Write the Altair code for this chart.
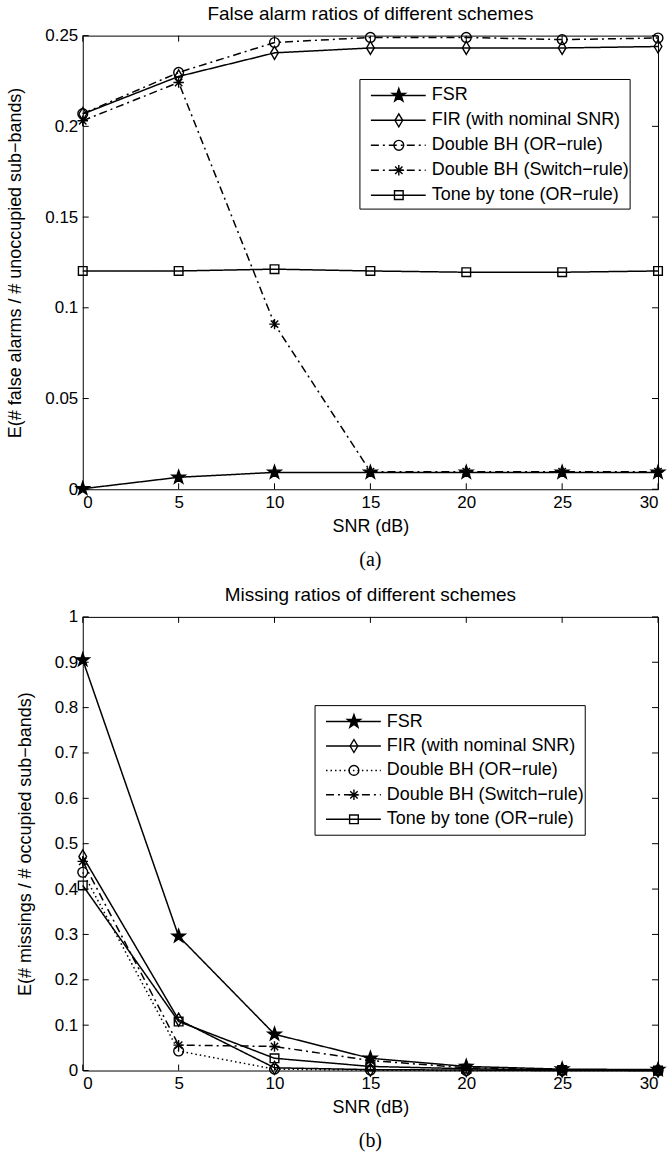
import altair as alt
import pandas as pd

# ---------------- data ----------------
snr = [0, 5, 10, 15, 20, 25, 30]
series = ["FSR", "FIR (with nominal SNR)", "Double BH (OR\u2212rule)",
          "Double BH (Switch\u2212rule)", "Tone by tone (OR\u2212rule)"]

# (a) false alarm ratios
fa_fsr = [0.0003, 0.0066, 0.0093, 0.0093, 0.0093, 0.0093, 0.0093]
fa_fir = [0.2068, 0.2275, 0.2405, 0.2432, 0.2432, 0.2432, 0.2440]
fa_or = [0.2070, 0.2297, 0.2462, 0.2490, 0.2490, 0.2478, 0.2487]
fa_sw = [0.2031, 0.2242, 0.0910, 0.0097, 0.0097, 0.0097, 0.0097]
fa_tone = [0.1203, 0.1203, 0.1213, 0.1203, 0.1196, 0.1196, 0.1203]

# (b) missing ratios
ms_fsr = [0.905, 0.296, 0.080, 0.027, 0.009, 0.003, 0.002]
ms_fir = [0.472, 0.112, 0.006, 0.002, 0.001, 0.000, 0.000]
ms_or = [0.437, 0.043, 0.003, 0.001, 0.000, 0.000, 0.000]
ms_sw = [0.461, 0.056, 0.053, 0.022, 0.006, 0.002, 0.001]
ms_tone = [0.408, 0.108, 0.027, 0.009, 0.004, 0.001, 0.000]

x_ticks = [0, 5, 10, 15, 20, 25, 30]
fa_ticks = [0, 0.05, 0.1, 0.15, 0.2, 0.25]
ms_ticks = [0, 0.1, 0.2, 0.3, 0.4, 0.5, 0.6, 0.7, 0.8, 0.9, 1]

# ---------------- styles ----------------
W, H = 577, 455
FONT = "Liberation Sans"
STAR = ("M0,-1L0.235,-0.324L0.951,-0.309L0.38,0.124L0.588,0.809L0,0.4"
        "L-0.588,0.809L-0.38,0.124L-0.951,-0.309L-0.235,-0.324Z")
DIAM = "M0,-0.93L0.55,0L0,0.93L-0.55,0Z"
CIRC = "M0.7,0A0.7,0.7 0 1,1 -0.7,0A0.7,0.7 0 1,1 0.7,0Z"
AST = "M-0.75,0L0.75,0M0,-0.75L0,0.75M-0.53,-0.53L0.53,0.53M-0.53,0.53L0.53,-0.53"
SQR = "M-0.62,-0.62L0.62,-0.62L0.62,0.62L-0.62,0.62Z"
shape_scale = alt.Scale(domain=series, range=[STAR, DIAM, CIRC, AST, SQR])
fill_scale = alt.Scale(domain=series, range=["black", "transparent", "transparent",
                                             "transparent", "transparent"])
SOLID = [1, 0]
DASHDOT = [8, 4, 2, 4]
DOT = [1.5, 3]


def panel(vals, ytitle, title, yticks, ydom, caption, dashes, box_x, box_y, row_y0, row_step):
    rows = []
    for s, v in zip(series, vals):
        for x, y in zip(snr, v):
            rows.append({"snr": x, "val": y, "series": s})
    df = pd.DataFrame(rows)
    dash_scale = alt.Scale(domain=series, range=dashes)

    xs = alt.Scale(domain=[0, 30], nice=False, zero=False)
    ys = alt.Scale(domain=ydom, nice=False, zero=False)
    base = alt.Chart(df)
    lines = base.mark_line(stroke="black", strokeWidth=1.5).encode(
        x=alt.X("snr:Q", scale=xs, title="SNR (dB)",
                axis=alt.Axis(values=x_ticks, format="~g")),
        y=alt.Y("val:Q", scale=ys, title=ytitle,
                axis=alt.Axis(values=yticks, format="~g")),
        strokeDash=alt.StrokeDash("series:N", scale=dash_scale, legend=None),
        detail="series:N",
    )
    pts = base.mark_point(stroke="black", strokeWidth=1.4, opacity=1, size=196).encode(
        x=alt.X("snr:Q", scale=xs),
        y=alt.Y("val:Q", scale=ys),
        shape=alt.Shape("series:N", scale=shape_scale, legend=None),
        fill=alt.Fill("series:N", scale=fill_scale, legend=None),
    )
    xt = pd.DataFrame({"t": x_ticks})
    yt = pd.DataFrame({"t": yticks})
    tick_bot = alt.Chart(xt).mark_rule(color="black", strokeWidth=1).encode(
        x=alt.X("t:Q", scale=xs), y=alt.value(H), y2=alt.value(H - 6))
    tick_top = alt.Chart(xt).mark_rule(color="black", strokeWidth=1).encode(
        x=alt.X("t:Q", scale=xs), y=alt.value(0), y2=alt.value(6))
    tick_l = alt.Chart(yt).mark_rule(color="black", strokeWidth=1).encode(
        y=alt.Y("t:Q", scale=ys), x=alt.value(0), x2=alt.value(6))
    tick_r = alt.Chart(yt).mark_rule(color="black", strokeWidth=1).encode(
        y=alt.Y("t:Q", scale=ys), x=alt.value(W), x2=alt.value(W - 6))
    data_layer = alt.layer(lines, pts, tick_bot, tick_top, tick_l, tick_r)

    one = pd.DataFrame({"a": [0]})
    cap = alt.Chart(one).mark_text(font="Liberation Serif", fontSize=20, color="black",
                                   baseline="middle", align="center").encode(
        x=alt.value(W / 2), y=alt.value(H + 71), text=alt.value(caption))

    leg = pd.DataFrame({"series": series, "i": list(range(len(series)))})
    lbase = alt.Chart(leg).transform_calculate(py=f"{row_y0} + datum.i * {row_step}")
    box = alt.Chart(one).mark_rect(fill="white", stroke="black", strokeWidth=1).encode(
        x=alt.value(box_x), x2=alt.value(box_x + 271),
        y=alt.value(box_y), y2=alt.value(box_y + 130))
    lline = lbase.mark_rule(stroke="black", strokeWidth=1.5).encode(
        x=alt.value(box_x + 11), x2=alt.value(box_x + 66),
        y=alt.Y("py:Q", scale=None, axis=None),
        strokeDash=alt.StrokeDash("series:N", scale=dash_scale, legend=None))
    lpt = lbase.mark_point(stroke="black", strokeWidth=1.4, opacity=1, size=196).encode(
        x=alt.value(box_x + 39),
        y=alt.Y("py:Q", scale=None, axis=None),
        shape=alt.Shape("series:N", scale=shape_scale, legend=None),
        fill=alt.Fill("series:N", scale=fill_scale, legend=None))
    ltxt = lbase.mark_text(font=FONT, fontSize=18, color="black", align="left",
                           baseline="middle").encode(
        x=alt.value(box_x + 72),
        y=alt.Y("py:Q", scale=None, axis=None),
        text="series:N")
    legend_layer = alt.layer(box, lline, lpt, ltxt)

    return alt.layer(data_layer, cap, legend_layer).resolve_scale(
        x="independent", y="independent"
    ).properties(
        width=W, height=H,
        title=alt.TitleParams(title, font=FONT, fontSize=19, fontWeight="normal",
                              color="black", offset=3),
    )


top = panel([fa_fsr, fa_fir, fa_or, fa_sw, fa_tone],
            "E(# false alarms / # unoccupied sub\u2212bands)",
            "False alarm ratios of different schemes", fa_ticks, [0, 0.25], "(a)",
            [SOLID, SOLID, DASHDOT, DASHDOT, SOLID], 278, 44, 60, 25)
bottom = panel([ms_fsr, ms_fir, ms_or, ms_sw, ms_tone],
               "E(# missings / # occupied sub\u2212bands)",
               "Missing ratios of different schemes", ms_ticks, [0, 1], "(b)",
               [SOLID, SOLID, DOT, DASHDOT, SOLID], 233, 89, 105, 24.5)

chart = alt.vconcat(top, bottom, spacing=14).resolve_scale(
    strokeDash="independent"
).properties(
    padding={"left": 6, "top": 2, "right": 0, "bottom": 0}
).configure_view(stroke="black", strokeWidth=1).configure_axis(
    grid=False, ticks=False, domain=False,
    labelFont=FONT, labelFontSize=17, labelColor="black", labelPadding=5,
    titleFont=FONT, titleFontSize=18, titleFontWeight="normal", titleColor="black",
).configure_axisX(titlePadding=7).configure_axisY(titlePadding=20)

chart.save("out.html", embed_options={"renderer": "svg", "actions": False})
